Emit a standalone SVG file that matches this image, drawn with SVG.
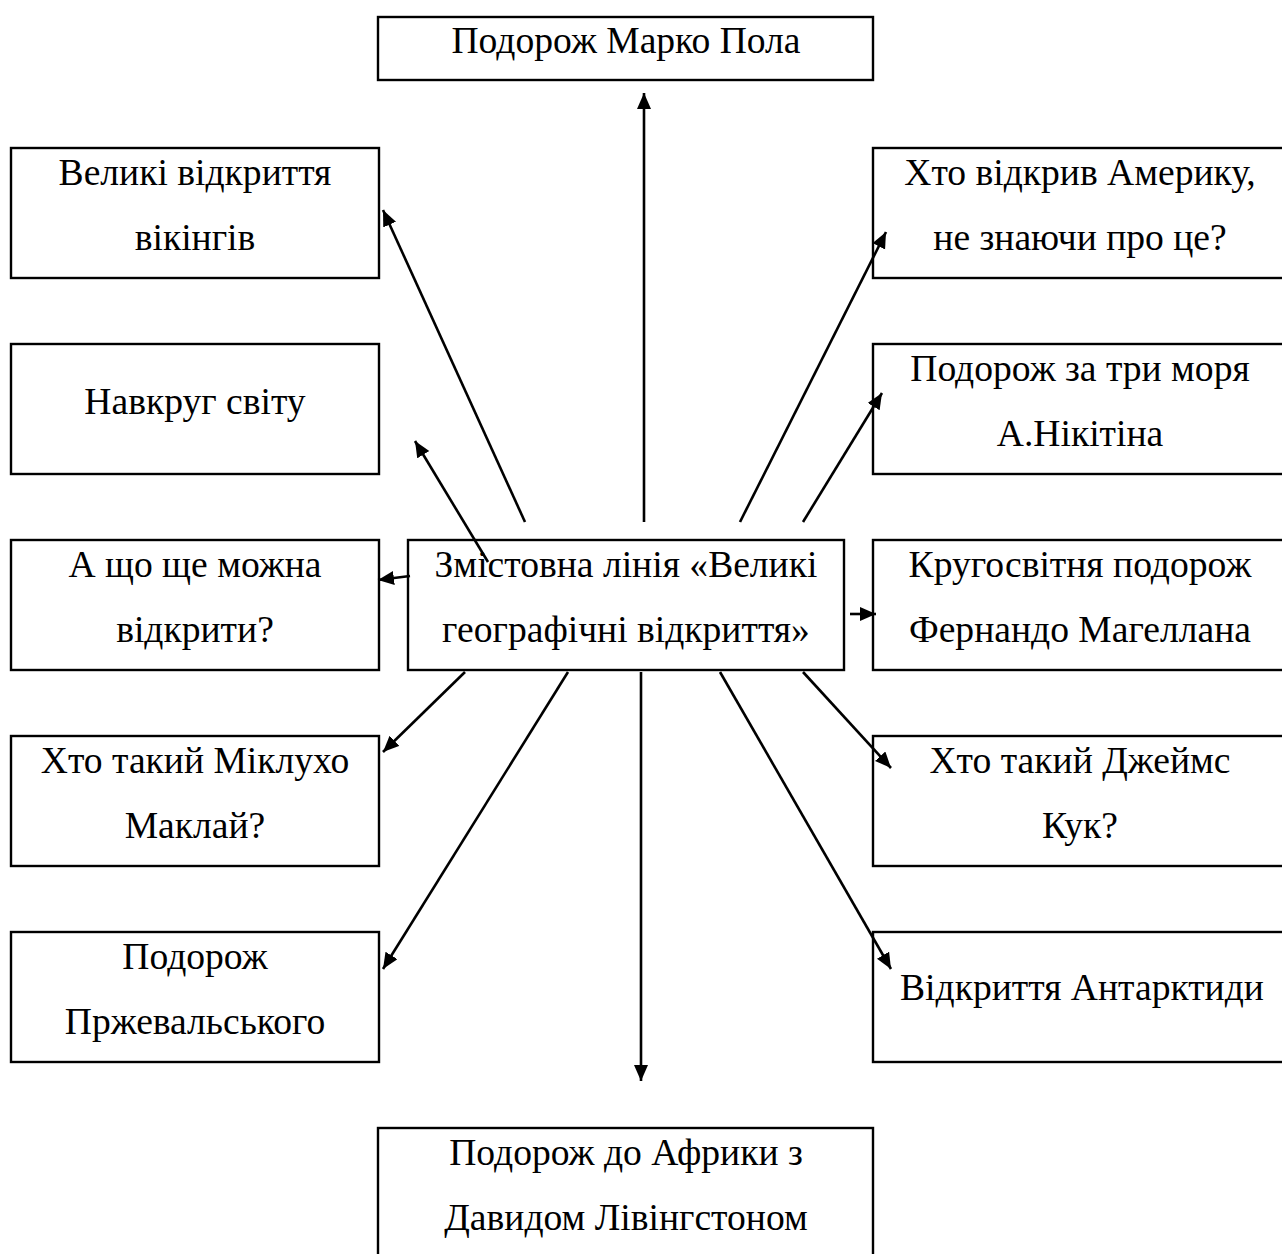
<svg xmlns="http://www.w3.org/2000/svg" width="1282" height="1254" viewBox="0 0 1282 1254">
<style>
.box{fill:#fff;stroke:#000;stroke-width:2.4}
.t{font-family:"Liberation Serif","Times New Roman",serif;font-size:37.6px;fill:#000;text-anchor:middle}
.c{stroke:#000;stroke-width:2.6;fill:none;marker-end:url(#ah)}
</style>
<defs>
<marker id="ah" markerUnits="userSpaceOnUse" markerWidth="17" markerHeight="15" refX="16" refY="7" orient="auto">
<path d="M0,0 L16,7 L0,14 z" fill="#000"/>
</marker>
</defs>
<rect width="1282" height="1254" fill="#fff"/>
<g id="n-top"><rect class="box" x="378" y="17" width="495" height="63"/><text class="t" x="626" y="53">Подорож Марко Пола</text></g>
<g id="n-l1"><rect class="box" x="11" y="148" width="368" height="130"/><text class="t" x="195" y="185">Великі відкриття</text><text class="t" x="195" y="250">вікінгів</text></g>
<g id="n-l2"><rect class="box" x="11" y="344" width="368" height="130"/><text class="t" x="195" y="414">Навкруг світу</text></g>
<g id="n-l3"><rect class="box" x="11" y="540" width="368" height="130"/><text class="t" x="195" y="577">А що ще можна</text><text class="t" x="195" y="642">відкрити?</text></g>
<g id="n-l4"><rect class="box" x="11" y="736" width="368" height="130"/><text class="t" x="195" y="773">Хто такий Міклухо</text><text class="t" x="195" y="838">Маклай?</text></g>
<g id="n-l5"><rect class="box" x="11" y="932" width="368" height="130"/><text class="t" x="195" y="969">Подорож</text><text class="t" x="195" y="1034">Пржевальського</text></g>
<g id="n-r1"><rect class="box" x="873" y="148" width="420" height="130"/><text class="t" x="1080" y="185">Хто відкрив Америку,</text><text class="t" x="1080" y="250">не знаючи про це?</text></g>
<g id="n-r2"><rect class="box" x="873" y="344" width="420" height="130"/><text class="t" x="1080" y="381">Подорож за три моря</text><text class="t" x="1080" y="446">А.Нікітіна</text></g>
<g id="n-r3"><rect class="box" x="873" y="540" width="420" height="130"/><text class="t" x="1080" y="577">Кругосвітня подорож</text><text class="t" x="1080" y="642">Фернандо Магеллана</text></g>
<g id="n-r4"><rect class="box" x="873" y="736" width="420" height="130"/><text class="t" x="1080" y="773">Хто такий Джеймс</text><text class="t" x="1080" y="838">Кук?</text></g>
<g id="n-r5"><rect class="box" x="873" y="932" width="420" height="130"/><text class="t" x="1082" y="1000">Відкриття Антарктиди</text></g>
<g id="n-center"><rect class="box" x="408" y="540" width="436" height="130"/><text class="t" x="626" y="577">Змістовна лінія «Великі</text><text class="t" x="626" y="642">географічні відкриття»</text></g>
<g id="n-bottom"><rect class="box" x="378" y="1128" width="495" height="140"/><text class="t" x="626" y="1165">Подорож до Африки з</text><text class="t" x="626" y="1230">Давидом Лівінгстоном</text></g>
<g id="connectors">
<line class="c" x1="644" y1="522" x2="644" y2="93"/>
<line class="c" x1="525" y1="522" x2="383" y2="210"/>
<line class="c" x1="488" y1="562" x2="415" y2="441"/>
<line class="c" x1="410" y1="576" x2="378" y2="580"/>
<line class="c" x1="465" y1="672" x2="383" y2="752"/>
<line class="c" x1="568" y1="672" x2="383" y2="969"/>
<line class="c" x1="641" y1="672" x2="641" y2="1081"/>
<line class="c" x1="720" y1="672" x2="891" y2="969"/>
<line class="c" x1="803" y1="672" x2="891" y2="768"/>
<line class="c" x1="850" y1="614" x2="876" y2="614"/>
<line class="c" x1="803" y1="522" x2="882" y2="393"/>
<line class="c" x1="740" y1="522" x2="886" y2="232"/>
</g>
</svg>
